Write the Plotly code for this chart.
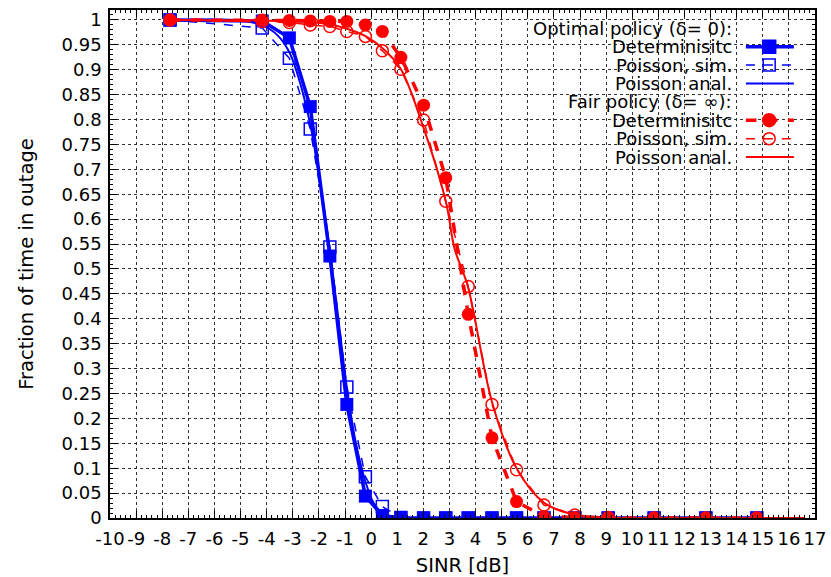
import plotly.graph_objects as go

# SINR points of the simulation curves [dB]
x_sinr = [-7.7, -4.17, -3.13, -2.33, -1.58, -0.93, -0.22, 0.43, 1.14, 2.01,
          2.86, 3.72, 4.63, 5.57, 6.62, 7.8, 9.08, 10.84, 12.82, 14.77]

# Optimal policy (delta = 0)
opt_det = [1.0, 0.998, 0.964, 0.826, 0.526, 0.228, 0.044, 0.005, 0.0, 0.0,
           0.0, 0.0, 0.0, 0.0, 0.0, 0.0, 0.0, 0.0, 0.0, 0.0]
opt_sim = [1.0, 0.984, 0.923, 0.781, 0.544, 0.263, 0.083, 0.023, 0.001, 0.0,
           0.0, 0.0, 0.0, 0.0, 0.0, 0.0, 0.0, 0.0, 0.0, 0.0]
opt_anal_x = [-7.7, -5.0, -4.2, -3.6, -3.13, -2.7, -2.33, -2.0, -1.6, -1.3,
              -0.95, -0.6, -0.23, 0.1, 0.44, 0.8, 1.2, 2.0, 16.6]
opt_anal = [1.0, 0.999, 0.99, 0.97, 0.935, 0.87, 0.79, 0.69, 0.545, 0.42,
            0.27, 0.155, 0.075, 0.03, 0.01, 0.003, 0.001, 0.0, 0.0]

# Fair policy (delta = inf)
fair_det = [1.0, 1.0, 0.999, 0.998, 0.997, 0.997, 0.99, 0.977, 0.925, 0.829,
            0.683, 0.409, 0.161, 0.033, 0.003, 0.001, 0.0, 0.0, 0.0, 0.0]
fair_sim = [1.0, 0.997, 0.995, 0.99, 0.987, 0.977, 0.967, 0.938, 0.901, 0.799,
            0.636, 0.465, 0.228, 0.097, 0.026, 0.006, 0.001, 0.0, 0.0, 0.0]
fair_anal_x = [-7.7, -4.2, -3.0, -1.8, -0.9, -0.23, 0.44, 1.13, 1.9, 2.86,
               3.2, 3.7, 4.64, 5.57, 6.64, 7.8, 9.0, 10.5, 16.6]
fair_anal = [1.0, 0.999, 0.997, 0.993, 0.982, 0.968, 0.943, 0.902, 0.8, 0.636,
             0.54, 0.466, 0.231, 0.1, 0.03, 0.007, 0.001, 0.0, 0.0]

# axis ticks (gnuplot prints a plain hyphen as minus sign)
x_ticks = list(range(-10, 18))
x_ticklabels = [str(v) for v in x_ticks]

BLUE = "#0000ff"
RED = "#ff0000"
FONT = "DejaVu Sans"
FS = 18
FS_TITLE = 19.5

fig = go.Figure()

# data curves
fig.add_trace(go.Scatter(x=opt_anal_x, y=opt_anal, mode="lines", line_shape="spline",
                         line=dict(color=BLUE, width=2)))
fig.add_trace(go.Scatter(x=x_sinr, y=opt_sim, mode="lines+markers",
                         line=dict(color=BLUE, width=1.5, dash="dash"),
                         marker=dict(symbol="square-open", size=12, color=BLUE, line=dict(width=1.5))))
fig.add_trace(go.Scatter(x=x_sinr, y=opt_det, mode="lines+markers",
                         line=dict(color=BLUE, width=3.5),
                         marker=dict(symbol="square", size=13, color=BLUE)))
fig.add_trace(go.Scatter(x=fair_anal_x, y=fair_anal, mode="lines", line_shape="spline",
                         line=dict(color=RED, width=2)))
fig.add_trace(go.Scatter(x=x_sinr, y=fair_sim, mode="lines+markers",
                         line=dict(color=RED, width=1.5, dash="dash"),
                         marker=dict(symbol="circle-open", size=12, color=RED, line=dict(width=1.5))))
fig.add_trace(go.Scatter(x=x_sinr, y=fair_det, mode="lines+markers",
                         line=dict(color=RED, width=3.5, dash="dash"),
                         marker=dict(symbol="circle", size=13, color=RED)))

# gnuplot-style key: text right-aligned, samples to the right
key_rows = [
    ("Optimal policy (δ= 0):", None),
    ("Determinisitc", dict(color=BLUE, width=3.5, dash="solid", sym="square", size=13)),
    ("Poisson, sim.", dict(color=BLUE, width=1.5, dash="dash", sym="square-open", size=12)),
    ("Poisson anal.", dict(color=BLUE, width=2, dash="solid", sym=None, size=0)),
    ("Fair policy (δ= ∞):", None),
    ("Determinisitc", dict(color=RED, width=3.5, dash="dash", sym="circle", size=13)),
    ("Poisson, sim.", dict(color=RED, width=1.5, dash="dash", sym="circle-open", size=12)),
    ("Poisson anal.", dict(color=RED, width=2, dash="solid", sym=None, size=0)),
]
row_top, row_step = 0.964, 0.0362
for n, (label, st) in enumerate(key_rows):
    yk = row_top - n * row_step
    fig.add_annotation(x=0.884, y=yk, xref="paper", yref="paper", text=label,
                       showarrow=False, xanchor="right", yanchor="middle",
                       borderpad=0,
                       font=dict(family=FONT, size=FS, color="black"))
    if st is None:
        continue
    fig.add_trace(go.Scatter(x=[0.902, 0.970], y=[yk, yk], mode="lines", xaxis="x2", yaxis="y2",
                             line=dict(color=st["color"], width=st["width"], dash=st["dash"])))
    if st["sym"]:
        fig.add_trace(go.Scatter(x=[0.935], y=[yk], mode="markers", xaxis="x2", yaxis="y2",
                                 marker=dict(symbol=st["sym"], size=st["size"], color=st["color"],
                                             line=dict(width=1.5, color=st["color"]))))

axis_common = dict(
    showline=True, mirror="ticks", linecolor="black", linewidth=1.5,
    ticks="inside", ticklen=7, tickwidth=1, tickcolor="black",
    showgrid=True, gridcolor="#333333", gridwidth=1, griddash="dot",
    zeroline=False, automargin=False,
    tickfont=dict(family=FONT, size=FS, color="black"),
)

fig.update_layout(
    width=831, height=577,
    margin=dict(l=110, r=16, t=10, b=59),
    plot_bgcolor="white", paper_bgcolor="white",
    showlegend=False,
    font=dict(family=FONT, size=FS, color="black"),
    xaxis=dict(axis_common, range=[-10, 17], tickvals=x_ticks, ticktext=x_ticklabels,
               tickangle=0, ticklabelstandoff=4,
               minor=dict(ticks="inside", ticklen=3, dtick=0.2, tickcolor="black", showgrid=False),
               title=dict(text="SINR [dB]", font=dict(family=FONT, size=FS_TITLE), standoff=11)),
    yaxis=dict(axis_common, range=[0, 1.02], dtick=0.05, tick0=0,
               minor=dict(ticks="inside", ticklen=3, dtick=0.01, tickcolor="black", showgrid=False),
               ticklabelstandoff=3,
               title=dict(text="Fraction of time in outage", font=dict(family=FONT, size=FS_TITLE), standoff=23)),
    xaxis2=dict(overlaying="x", anchor="y2", range=[0, 1], visible=False),
    yaxis2=dict(overlaying="y", anchor="x2", range=[0, 1], visible=False),
)

# drop the default 8px body margin so the figure sits at the page origin
fig.write_html("out.html", config={"displayModeBar": False},
               post_script="document.body.style.margin='0px';")
